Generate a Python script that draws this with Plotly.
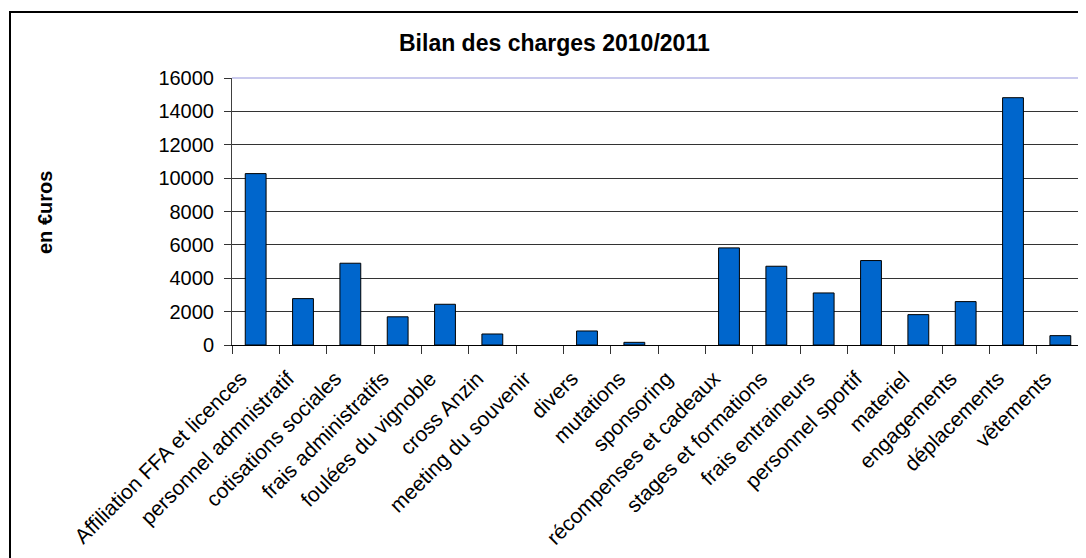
import plotly.graph_objects as go

categories = [
    "Affiliation FFA et licences", "personnel admnistratif", "cotisations sociales",
    "frais administratifs", "foulées du vignoble", "cross Anzin", "meeting du souvenir",
    "divers", "mutations", "sponsoring", "récompenses et cadeaux", "stages et formations",
    "frais entraineurs", "personnel sportif", "materiel", "engagements", "déplacements",
    "vêtements",
]
charges = [10270, 2780, 4900, 1690, 2440, 660, 0, 840, 160, 0, 5820, 4720, 3120, 5060,
           1820, 2600, 14820, 560]
y_ticks = [0, 2000, 4000, 6000, 8000, 10000, 12000, 14000, 16000]

FONT = "Liberation Sans, Arial, sans-serif"

# page body has an 8px margin: work in figure coordinates = page - 8
OFF = 8
W, H = 1086 - OFF, 558 - OFF
L, R, T, B = 232 - OFF, 1084 - OFF, 78 - OFF, 345 - OFF
def px(x):
    return (x - OFF - L) / (R - L)
def py(y):
    return (B - (y - OFF)) / (B - T)

fig = go.Figure()
fig.add_trace(go.Bar(
    x=categories, y=charges, width=0.44,
    marker=dict(color="#0066CC",
                line=dict(color="#000000", width=[1 if v else 0 for v in charges])),
))

fig.update_layout(
    width=W, height=H,
    margin=dict(l=L, r=W - R, t=T, b=H - B, pad=0),
    paper_bgcolor="white", plot_bgcolor="white",
    showlegend=False,
    font=dict(family=FONT, color="black", size=20),
)
fig.update_xaxes(
    type="category", tickangle=-45, tickfont=dict(size=21, family=FONT),
    ticks="outside", tickson="boundaries", ticklen=8, tickcolor="#333333",
    ticklabelstandoff=12, ticklabelshift=-15,
    showline=True, linecolor="#000000", linewidth=1,
    showgrid=False, automargin=False,
)
fig.update_yaxes(
    range=[0, 16000], tickvals=y_ticks, ticktext=[str(v) for v in y_ticks],
    tickfont=dict(size=20, family=FONT),
    ticks="outside", ticklen=7, tickcolor="#333333", ticklabelstandoff=6,
    showline=True, linecolor="#404040", linewidth=1,
    showgrid=True, gridcolor="#333333", gridwidth=1,
    zeroline=False, automargin=False,
)

# plot-area border (top and right) in lavender
fig.add_shape(type="line", xref="paper", yref="paper", x0=0, x1=1, y0=1, y1=1,
              line=dict(color="#B8B8E8", width=1.5), layer="above")
fig.add_shape(type="line", xref="paper", yref="paper", x0=1, x1=1, y0=0, y1=1,
              line=dict(color="#B8B8E8", width=1.5), layer="above")
# outer chart border
fig.add_shape(type="rect", xref="paper", yref="paper",
              x0=px(10), x1=px(1110), y0=py(600), y1=py(12),
              line=dict(color="#000000", width=2), layer="above")

fig.add_annotation(text="<b>Bilan des charges 2010/2011</b>", xref="paper", yref="paper",
                   x=px(554), y=py(43), xanchor="center", yanchor="middle",
                   showarrow=False, font=dict(size=23, family=FONT))
fig.add_annotation(text="<b>en €uros</b>", xref="paper", yref="paper",
                   x=px(45), y=py(213), xanchor="center", yanchor="middle",
                   textangle=-90, showarrow=False, font=dict(size=20, family=FONT))

fig.write_html("out.html")
